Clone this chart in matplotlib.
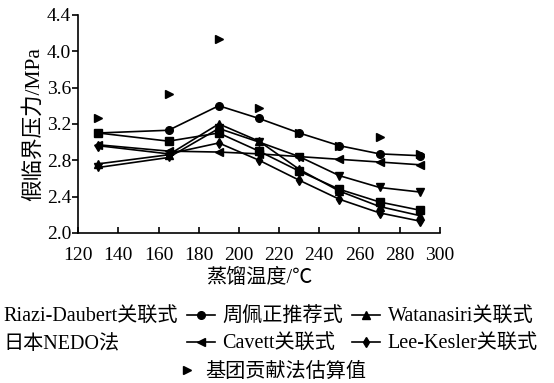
import matplotlib
matplotlib.use('Agg')
import matplotlib.pyplot as plt
import numpy as np

plt.rcParams['font.family'] = ['Liberation Serif', 'Noto Sans CJK SC']

temps = [130, 165, 190, 210, 230, 250, 270, 290]
riazi = [3.10, 3.01, 3.10, 2.90, 2.68, 2.48, 2.34, 2.25]
zhou = [3.10, 3.13, 3.40, 3.26, 3.10, 2.96, 2.87, 2.85]
watanasiri = [2.76, 2.86, 3.20, 3.01, 2.70, 2.46, 2.29, 2.19]
nedo = [2.72, 2.83, 3.15, 3.00, 2.84, 2.63, 2.50, 2.45]
cavett = [2.97, 2.90, 2.89, 2.87, 2.84, 2.81, 2.78, 2.75]
lee_kesler = [2.96, 2.87, 2.99, 2.80, 2.58, 2.37, 2.22, 2.13]
group_contrib = [3.26, 3.53, 4.13, 3.37, 3.10, 2.96, 3.06, 2.87]

fig = plt.figure(figsize=(5.54, 3.83), dpi=100)
ax = fig.add_axes([0.141, 0.392, 0.653, 0.569])

kw = dict(color='black', lw=1.2, markersize=5.5)
h_gc, = ax.plot(temps, group_contrib, '>', color='black', markersize=5.5,
                linestyle='none', zorder=1, label='基团贡献法估算值')
h_ri, = ax.plot(temps, riazi, marker='s', label='Riazi-Daubert关联式', **kw)
h_zh, = ax.plot(temps, zhou, marker='o', label='周佩正推荐式', **kw)
h_wa, = ax.plot(temps, watanasiri, marker='^', label='Watanasiri关联式', **kw)
h_ne, = ax.plot(temps, nedo, marker='v', label='日本NEDO法', **kw)
h_ca, = ax.plot(temps, cavett, marker='<', label='Cavett关联式', **kw)
h_lk, = ax.plot(temps, lee_kesler, marker='d', label='Lee-Kesler关联式', **kw)

ax.set_xlim(120, 300)
ax.set_ylim(2.0, 4.4)
ax.set_xticks(np.arange(120, 301, 20))
ax.set_yticks(np.arange(2.0, 4.41, 0.4))
ax.set_yticklabels(['%.1f' % v for v in np.arange(2.0, 4.41, 0.4)])
ax.spines['top'].set_visible(False)
ax.spines['right'].set_visible(False)
for s in ax.spines.values():
    s.set_linewidth(1.2)
ax.tick_params(axis='x', direction='in', length=4, width=1.2, labelsize=14, pad=10)
ax.tick_params(axis='y', direction='out', length=4, width=1.2, labelsize=14, pad=1)
ax.set_xlabel('蒸馏温度/℃', fontsize=14.5, labelpad=4)
ax.set_ylabel('假临界压力/MPa', fontsize=15.5, labelpad=2)

handles = [h_ri, h_ne, h_zh, h_ca, h_wa, h_lk]
labels = [h.get_label() for h in handles]
fig.legend(handles, labels, ncol=3, loc='upper left',
           bbox_to_anchor=(-0.057, 0.196), frameon=False, fontsize=14.5,
           handlelength=1.4, handletextpad=0.35, columnspacing=0.45,
           labelspacing=0.4, borderaxespad=0, borderpad=0)
fig.legend([h_gc], [h_gc.get_label()], loc='upper left',
           bbox_to_anchor=(0.3195, 0.053), frameon=False, fontsize=14.5,
           handlelength=1.0, handletextpad=0.4, borderaxespad=0, borderpad=0)

fig.savefig('out.png', dpi=100)
